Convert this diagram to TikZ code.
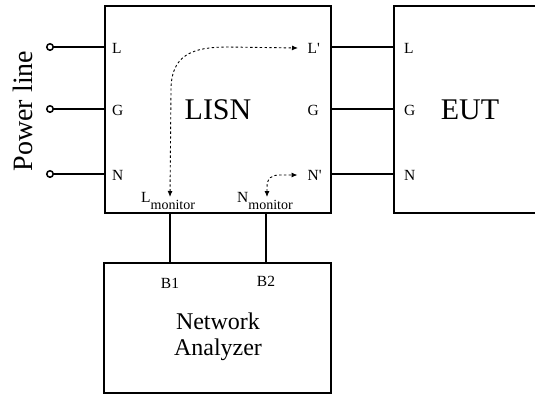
\documentclass[tikz,border=0pt]{standalone}
\usepackage{fontspec}
\setmainfont{Liberation Serif}
\usetikzlibrary{arrows.meta,positioning}

\tikzset{
  block/.style={draw, line width=1.8pt, inner sep=0pt},
  wire/.style={line width=1.8pt},
  port/.style={inner sep=0pt, anchor=west, font=\fontsize{15.5}{15.5}\selectfont},
  terminal/.style={circle, draw, fill=white, line width=1.5pt, minimum size=6.5pt, inner sep=0pt},
  signal/.style={line width=0.9pt, dash pattern=on 2.4pt off 2.4pt,
    {Latex[length=6pt,width=5pt]}-{Latex[length=6pt,width=5pt]}},
}
\newcommand{\mon}[1]{#1\raisebox{-7pt}{\fontsize{14}{14}\selectfont monitor}}

\begin{document}
\begin{tikzpicture}[x=1pt, y=-1pt]
  \useasboundingbox (0,0) rectangle (535,394);
  \clip (0,0) rectangle (535,394);

  % boxes
  \node[block, minimum width=226pt, minimum height=207pt, font=\fontsize{30}{30}\selectfont] (lisn) at (218,109.5) {LISN};
  \node[block, minimum width=152pt, minimum height=207pt, font=\fontsize{30}{30}\selectfont] (eut) at (470,109.5) {EUT};
  \node[block, minimum width=227pt, minimum height=130pt] (na) at (217.5,328) {};
  \node[align=center, font=\fontsize{24}{26}\selectfont] (natext) at (218,337) {Network\\Analyzer};

  \node[rotate=90, font=\fontsize{28}{28}\selectfont] (pwr) at (23,111) {Power line};

  % lines L, G, N
  \foreach \y/\a/\b in {47/L/L\textquotesingle, 109/G/G, 174/N/N\textquotesingle} {
    \node[terminal] (t\a) at (50,\y) {};
    \node[port] (in\a) at (112,\y+1) {\a};
    \node[port] (out\a) at (307.5,\y+1) {\b};
    \node[port] (eut\a) at (404,\y+1) {\a};
    \draw[wire] (t\a.east) -- (t\a -| lisn.west);
    \draw[wire] (t\a -| lisn.east) -- (t\a -| eut.west);
  }

  % monitor ports
  \node[port, anchor=base west] (lmon) at (141,202) {\mon{L}};
  \node[port, anchor=base west] (nmon) at (237,202) {\mon{N}};
  \coordinate (ltap) at (170,197);
  \coordinate (ntap) at (267,197);

  \draw[signal] (ltap) -- (171,90) .. controls (171,55) and (192,47) .. (228,47) -- ([xshift=-9.5pt]outL.west);
  \draw[signal] (ntap) -- (267,188) .. controls (267,178) and (271,175) .. (280,175) -- ([xshift=-10pt]outN.west);

  % analyzer ports
  \node[port, anchor=center] (b1) at (170,283) {B1};
  \node[port, anchor=center] (b2) at (266,281) {B2};
  \draw[wire] (b1 |- lisn.south) -- (b1 |- na.north);
  \draw[wire] (b2 |- lisn.south) -- (b2 |- na.north);
\end{tikzpicture}
\end{document}
